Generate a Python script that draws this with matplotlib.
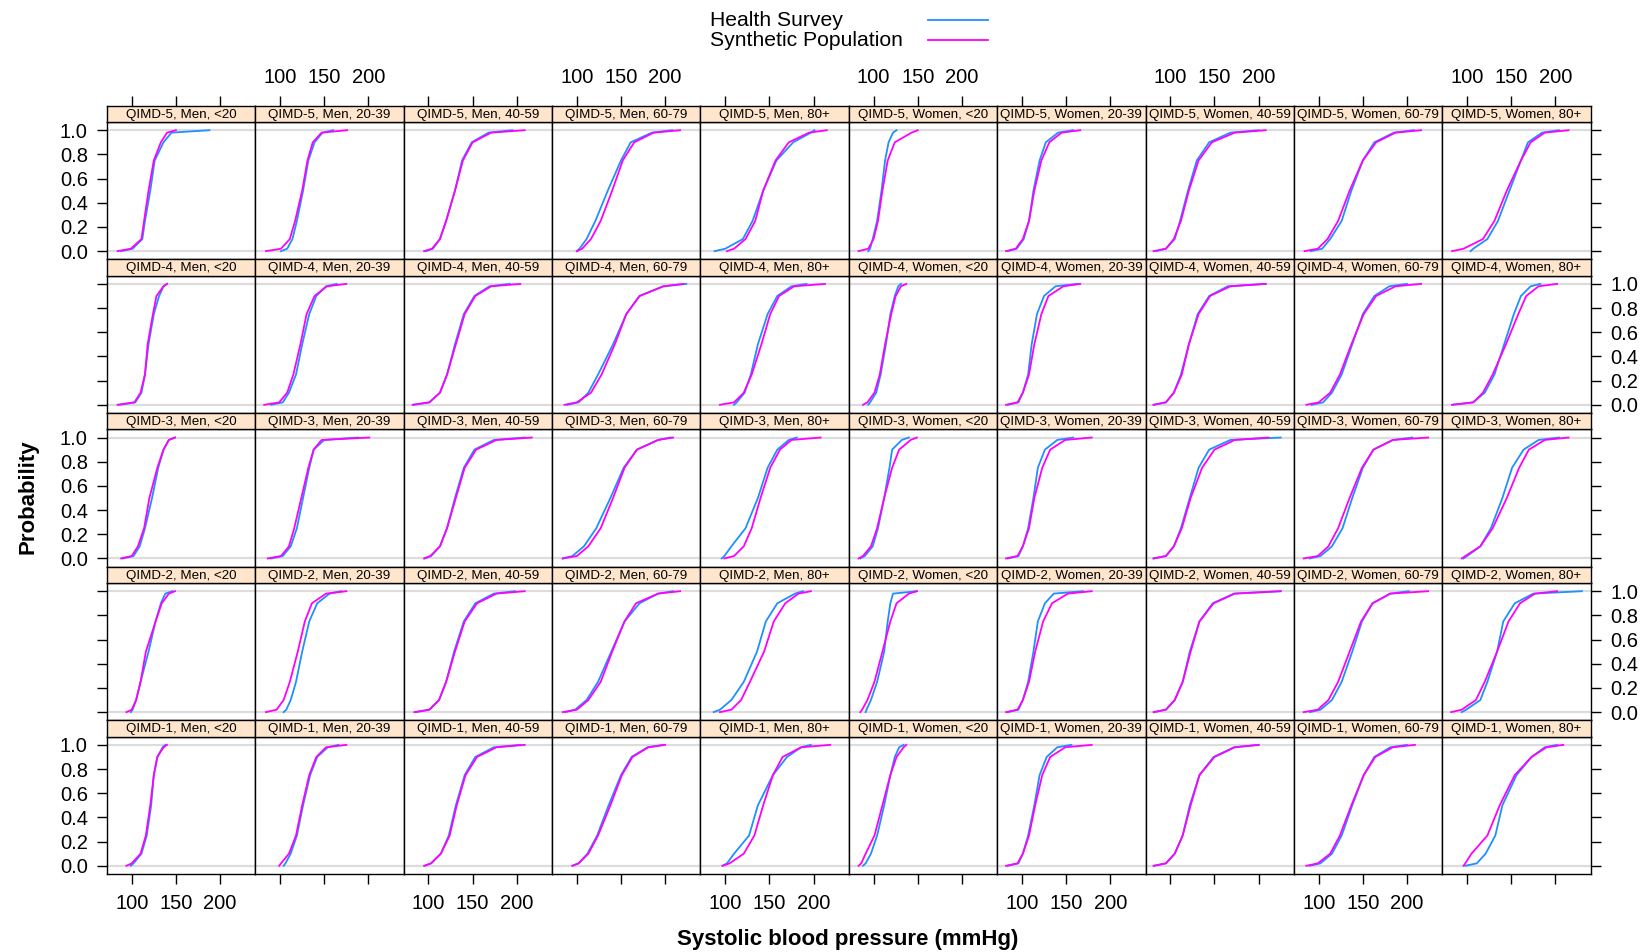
import matplotlib
matplotlib.use("Agg")
import matplotlib.pyplot as plt
from matplotlib.lines import Line2D

plt.rcParams['font.family'] = ['Liberation Sans', 'DejaVu Sans']

# ---------------- data ----------------
qimd_levels = ['QIMD-5', 'QIMD-4', 'QIMD-3', 'QIMD-2', 'QIMD-1']
group_labels = ['Men, <20', 'Men, 20-39', 'Men, 40-59', 'Men, 60-79', 'Men, 80+',
                'Women, <20', 'Women, 20-39', 'Women, 40-59', 'Women, 60-79', 'Women, 80+']
prob_levels = [0.0, 0.02, 0.1, 0.25, 0.5, 0.75, 0.9, 0.98, 1.0]
series_names = ['Health Survey', 'Synthetic Population']
x_ticks = [100, 150, 200]
y_ticks = [0.0, 0.2, 0.4, 0.6, 0.8, 1.0]

# systolic blood pressure (mmHg) at each probability level, one list per panel
survey_qimd5 = [
    [88, 101, 112, 115, 121, 126, 136, 145, 188],
    [101, 108, 114, 119, 126, 132, 139, 148, 160],
    [97, 105, 113, 120, 130, 138, 149, 168, 195],
    [100, 103, 111, 121, 135, 150, 161, 185, 208],
    [88, 100, 120, 131, 143, 158, 177, 197, 201],
    [94, 96, 99, 104, 109, 113, 117, 122, 126],
    [84, 94, 102, 108, 113, 120, 127, 141, 158],
    [84, 95, 105, 111, 120, 130, 144, 168, 200],
    [91, 104, 113, 126, 137, 150, 163, 185, 208],
    [104, 107, 123, 135, 148, 161, 169, 185, 204],
]
synth_qimd5 = [
    [84, 99, 111, 114, 119, 125, 133, 140, 150],
    [84, 101, 111, 117, 125, 131, 137, 147, 176],
    [95, 104, 113, 120, 130, 139, 150, 171, 209],
    [100, 106, 116, 127, 140, 152, 165, 187, 217],
    [102, 110, 123, 134, 143, 157, 172, 195, 215],
    [83, 94, 100, 105, 110, 116, 124, 143, 150],
    [82, 93, 101, 108, 114, 122, 131, 145, 166],
    [81, 95, 104, 112, 121, 132, 147, 173, 208],
    [84, 99, 110, 122, 135, 150, 165, 187, 216],
    [83, 96, 118, 131, 145, 161, 172, 188, 215],
]
survey_qimd4 = [
    [86, 104, 111, 115, 119, 125, 131, 136, 140],
    [90, 103, 110, 118, 125, 133, 141, 152, 164],
    [83, 101, 113, 121, 130, 140, 152, 169, 192],
    [89, 102, 113, 124, 141, 156, 171, 198, 224],
    [110, 113, 122, 129, 137, 148, 159, 175, 192],
    [94, 96, 103, 108, 114, 119, 124, 128, 131],
    [84, 96, 101, 107, 111, 117, 125, 138, 163],
    [81, 95, 104, 112, 121, 131, 144, 165, 208],
    [92, 105, 115, 126, 138, 150, 163, 180, 200],
    [83, 107, 120, 131, 142, 153, 161, 172, 183],
]
synth_qimd4 = [
    [84, 103, 110, 115, 118, 124, 128, 136, 140],
    [82, 99, 108, 115, 123, 130, 139, 153, 175],
    [82, 101, 113, 121, 131, 141, 153, 171, 204],
    [86, 100, 116, 128, 143, 156, 171, 198, 221],
    [94, 110, 121, 130, 141, 151, 161, 178, 213],
    [88, 93, 101, 107, 113, 120, 125, 131, 137],
    [82, 95, 101, 108, 114, 122, 130, 147, 166],
    [81, 95, 104, 113, 121, 132, 145, 168, 208],
    [86, 100, 113, 124, 137, 151, 165, 187, 216],
    [83, 107, 118, 129, 144, 158, 167, 181, 202],
]
survey_qimd3 = [
    [90, 102, 109, 115, 123, 130, 136, 142, 149],
    [90, 103, 112, 119, 126, 133, 138, 150, 188],
    [96, 103, 113, 121, 130, 140, 152, 174, 209],
    [84, 95, 108, 122, 138, 153, 168, 192, 206],
    [96, 99, 107, 123, 137, 148, 159, 172, 181],
    [85, 90, 99, 105, 112, 118, 121, 132, 140],
    [84, 96, 101, 107, 113, 118, 126, 140, 158],
    [81, 95, 104, 112, 122, 132, 144, 168, 225],
    [90, 102, 115, 127, 138, 150, 162, 184, 206],
    [96, 100, 115, 127, 140, 151, 164, 181, 204],
]
synth_qimd3 = [
    [88, 100, 107, 114, 120, 129, 136, 142, 149],
    [86, 101, 110, 116, 124, 132, 138, 147, 201],
    [95, 102, 113, 121, 131, 141, 154, 177, 217],
    [84, 100, 113, 127, 141, 154, 168, 192, 209],
    [99, 110, 121, 130, 140, 151, 162, 175, 208],
    [83, 88, 97, 104, 112, 121, 129, 142, 149],
    [82, 95, 101, 108, 114, 123, 132, 149, 179],
    [81, 95, 104, 113, 123, 136, 150, 173, 211],
    [83, 99, 111, 122, 135, 149, 162, 184, 224],
    [94, 98, 115, 129, 145, 159, 170, 188, 215],
]
survey_qimd2 = [
    [99, 101, 105, 110, 119, 127, 133, 138, 146],
    [104, 107, 112, 118, 125, 133, 142, 156, 169],
    [86, 101, 112, 120, 129, 140, 153, 174, 198],
    [87, 98, 111, 124, 139, 154, 171, 192, 209],
    [87, 94, 107, 121, 136, 146, 159, 179, 188],
    [91, 92, 97, 104, 112, 116, 119, 122, 149],
    [84, 96, 101, 107, 113, 118, 126, 136, 169],
    [82, 95, 105, 114, 122, 133, 148, 172, 225],
    [90, 102, 115, 126, 138, 149, 161, 181, 202],
    [94, 99, 115, 123, 134, 141, 154, 175, 230],
]
synth_qimd2 = [
    [94, 100, 105, 110, 116, 127, 134, 142, 149],
    [84, 96, 104, 111, 120, 128, 136, 152, 175],
    [84, 101, 112, 120, 130, 141, 155, 177, 209],
    [84, 100, 113, 127, 140, 154, 167, 192, 217],
    [94, 107, 118, 128, 144, 155, 168, 183, 197],
    [85, 87, 93, 101, 110, 119, 126, 140, 149],
    [82, 95, 101, 108, 115, 124, 134, 152, 179],
    [81, 95, 105, 114, 123, 133, 149, 173, 225],
    [83, 99, 111, 122, 135, 148, 161, 181, 224],
    [82, 94, 110, 120, 134, 147, 160, 177, 202],
]
survey_qimd1 = [
    [99, 102, 111, 117, 122, 125, 129, 135, 138],
    [104, 106, 112, 119, 126, 134, 142, 154, 166],
    [96, 103, 114, 123, 131, 141, 153, 174, 204],
    [95, 102, 112, 123, 136, 150, 162, 180, 198],
    [97, 102, 110, 127, 137, 154, 170, 186, 197],
    [88, 91, 97, 104, 112, 119, 124, 129, 134],
    [84, 96, 101, 107, 114, 120, 128, 140, 156],
    [82, 95, 105, 114, 122, 133, 149, 172, 200],
    [90, 102, 115, 126, 138, 151, 163, 181, 200],
    [98, 111, 121, 132, 140, 156, 173, 188, 202],
]
synth_qimd1 = [
    [94, 100, 110, 116, 121, 125, 129, 136, 140],
    [99, 101, 110, 118, 125, 133, 141, 152, 175],
    [95, 103, 114, 124, 132, 142, 155, 177, 209],
    [95, 102, 113, 124, 138, 151, 163, 181, 200],
    [97, 105, 121, 133, 143, 154, 165, 186, 219],
    [83, 86, 91, 101, 110, 119, 126, 134, 137],
    [82, 95, 101, 108, 115, 123, 132, 149, 179],
    [81, 95, 105, 114, 123, 133, 150, 173, 200],
    [86, 99, 113, 124, 137, 151, 164, 184, 209],
    [96, 98, 105, 123, 137, 154, 173, 190, 209],
]

survey_rows = [survey_qimd5, survey_qimd4, survey_qimd3, survey_qimd2, survey_qimd1]
synth_rows = [synth_qimd5, synth_qimd4, synth_qimd3, synth_qimd2, synth_qimd1]

# ---------------- styling / layout ----------------
W, H = 1646, 952
BLUE = '#1E90FF'
MAGENTA = '#FF00FF'
STRIP = '#FFE5CC'
GRID = '#DCDCDC'
TICK_FS = 14.5
XLIM = (72, 240)
YLIM = (-0.068, 1.068)

left_px, right_px = 107.0, 1590.7
top_px, bottom_px = 105.7, 874.0
col_w = (right_px - left_px) / 10
row_h = (bottom_px - top_px) / 5
strip_h = 16.3


def fx(px):
    return px / W


def fy(py):
    return 1 - py / H


fig = plt.figure(figsize=(W / 100, H / 100), dpi=100)

tick_kw = dict(direction='out', length=7.3, width=1.0, labelsize=TICK_FS,
               colors='black')

for r in range(5):
    for c in range(10):
        x0 = left_px + c * col_w
        y_strip_top = top_px + r * row_h
        y_panel_top = y_strip_top + strip_h
        y_panel_bot = y_strip_top + row_h

        ax = fig.add_axes([fx(x0), fy(y_panel_bot), col_w / W,
                           (y_panel_bot - y_panel_top) / H])
        ax.set_xlim(*XLIM)
        ax.set_ylim(*YLIM)
        ax.axhline(0, color=GRID, lw=1.6, zorder=1)
        ax.axhline(1, color=GRID, lw=1.6, zorder=1)
        ax.plot(survey_rows[r][c], prob_levels, color=BLUE, lw=1.3, zorder=2)
        ax.plot(synth_rows[r][c], prob_levels, color=MAGENTA, lw=1.3, zorder=3)
        for s in ax.spines.values():
            s.set_linewidth(1.0)
            s.set_color('black')

        ax.set_xticks(x_ticks)
        ax.set_yticks(y_ticks)
        ax.set_yticklabels([f'{v:.1f}' for v in y_ticks])
        ax.tick_params(**tick_kw)
        ax.tick_params(axis='x', top=False, labeltop=False,
                       bottom=(r == 4), labelbottom=(r == 4 and c % 2 == 0), pad=7)
        if c == 0:
            ax.tick_params(axis='y', left=True, labelleft=(r % 2 == 0),
                           right=False, labelright=False, pad=6.5)
        elif c == 9:
            ax.tick_params(axis='y', left=False, labelleft=False,
                           right=True, labelright=(r % 2 == 1), pad=7)
        else:
            ax.tick_params(axis='y', left=False, labelleft=False,
                           right=False, labelright=False)

        sax = fig.add_axes([fx(x0), fy(y_panel_top), col_w / W, strip_h / H])
        sax.set_facecolor(STRIP)
        sax.set_xlim(*XLIM)
        sax.set_yticks([])
        for s in sax.spines.values():
            s.set_linewidth(1.0)
            s.set_color('black')
        sax.set_xticks(x_ticks)
        sax.tick_params(**tick_kw)
        sax.tick_params(axis='x', bottom=False, labelbottom=False,
                        top=(r == 0), labeltop=(r == 0 and c % 2 == 1), pad=6)
        sax.text(0.5, 0.45, f'{qimd_levels[r]}, {group_labels[c]}',
                 transform=sax.transAxes, ha='center', va='center',
                 fontsize=9.6)

# legend
fig.text(fx(710), fy(20), series_names[0], ha='left', va='center', fontsize=15.2)
fig.text(fx(710), fy(41), series_names[1], ha='left', va='center', fontsize=15.2)
fig.add_artist(Line2D([fx(928), fx(988)], [fy(19.5), fy(19.5)], color=BLUE, lw=1.3))
fig.add_artist(Line2D([fx(928), fx(988)], [fy(40), fy(40)], color=MAGENTA, lw=1.3))

# axis labels
fig.text(fx(848), fy(939.5), 'Systolic blood pressure (mmHg)', ha='center',
         va='center', fontsize=16, fontweight='bold')
fig.text(fx(28.5), fy(497), 'Probability', ha='center', va='center',
         rotation=90, fontsize=16, fontweight='bold')

fig.savefig('out.png', dpi=100)
